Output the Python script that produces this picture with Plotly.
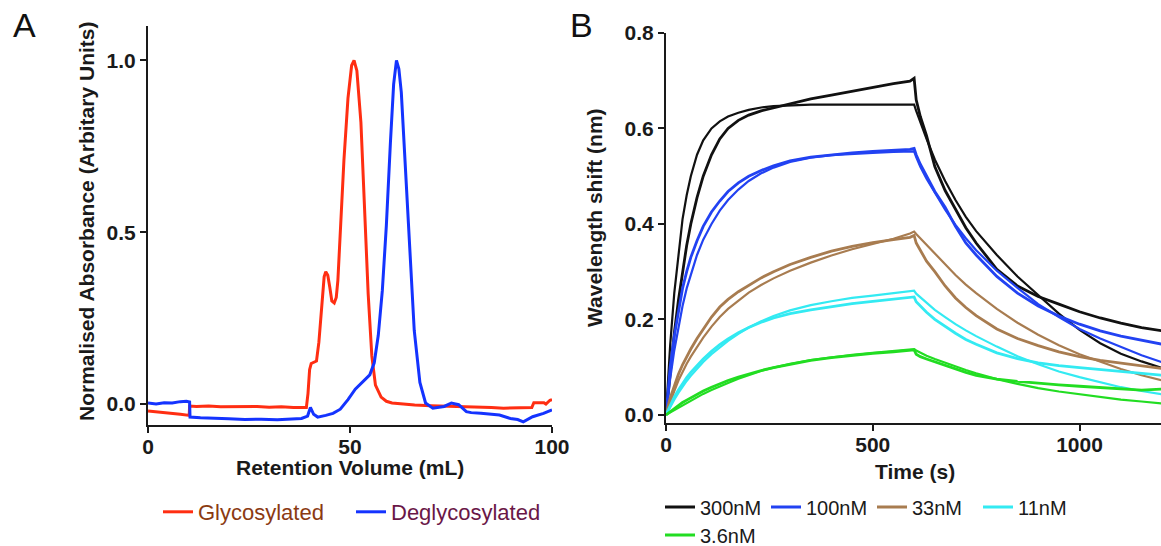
import plotly.graph_objects as go

# ---------------- Panel A data (size-exclusion chromatography) ----------------
glyco_ml = [0, 2, 4, 6, 8, 10.2, 10.3, 12, 15, 18, 21, 24, 27, 30, 33, 36, 38.5, 39.2, 39.6, 40.0, 40.4,
            41.0, 41.7, 42.3, 43.0, 43.6, 44.0, 44.5, 45.0, 45.5, 46.1, 46.6, 47.0, 47.6, 48.5, 49.5, 50.4,
            51.0, 51.7, 52.7, 53.6, 54.5, 55.4, 56.3, 57.7, 59, 60.4, 63, 66, 70, 75, 80, 85, 88, 90, 92,
            95, 95.5, 97, 98, 98.5, 99.5, 100]
glyco_abs = [-0.02, -0.022, -0.025, -0.027, -0.03, -0.033, -0.006, -0.007, -0.006, -0.008, -0.007, -0.008,
             -0.007, -0.009, -0.008, -0.01, -0.011, -0.01, 0.03, 0.1, 0.118, 0.121, 0.125, 0.18, 0.29, 0.37,
             0.385, 0.375, 0.34, 0.30, 0.294, 0.31, 0.36, 0.5, 0.71, 0.89, 0.985, 1.0, 0.97, 0.82, 0.57,
             0.32, 0.14, 0.055, 0.02, 0.008, 0.003, 0.0, -0.003, -0.005, -0.006, -0.008, -0.01, -0.012,
             -0.011, -0.012, -0.01, 0.004, 0.005, 0.004, 0.0, 0.011, 0.013]

deglyco_ml = [0, 2, 4, 6, 8, 9.5, 10.3, 10.4, 13, 16, 20, 24, 28, 32, 35, 38, 39.5, 40.2, 41, 42, 44, 45.8,
              47.6, 49.5, 51.3, 53.1, 54.9, 56.0, 57.0, 58.0, 59.0, 60.0, 60.8, 61.5, 62.1, 62.7, 63.6, 64.6,
              65.9, 67.3, 68.7, 70.5, 72, 73.3, 75.1, 76.9, 78.8, 80, 82.4, 85, 87, 89.7, 91.5, 92.9, 94,
              95.2, 97.9, 100]
deglyco_abs = [0.003, 0.0, 0.004, 0.003, 0.007, 0.008, 0.006, -0.038, -0.04, -0.042, -0.043, -0.045, -0.044,
               -0.046, -0.044, -0.042, -0.035, -0.01, -0.03, -0.038, -0.033, -0.027, -0.015, 0.013, 0.043,
               0.063, 0.085, 0.12, 0.2, 0.33, 0.52, 0.76, 0.93, 1.0, 0.975, 0.907, 0.716, 0.465, 0.214,
               0.063, 0.003, -0.012, -0.01, -0.007, 0.003, -0.002, -0.022, -0.025, -0.027, -0.03, -0.032,
               -0.042, -0.045, -0.052, -0.045, -0.037, -0.027, -0.017]

# ---------------- Panel B data (binding kinetics) ----------------
time_s = [0, 10, 20, 30, 40, 50, 60, 75, 90, 110, 130, 150, 175, 200, 230, 260, 300, 350, 400, 450, 500, 550,
          590, 600, 605, 615, 630, 650, 675, 700, 725, 750, 800, 850, 900, 950, 1000, 1050, 1100, 1150, 1200]

nm300_data = [0, 0.09, 0.17, 0.24, 0.30, 0.355, 0.40, 0.455, 0.50, 0.545, 0.578, 0.60, 0.617, 0.628, 0.637,
              0.643, 0.652, 0.662, 0.670, 0.678, 0.687, 0.694, 0.699, 0.705, 0.66, 0.625, 0.585, 0.52, 0.47,
              0.43, 0.392, 0.36, 0.305, 0.27, 0.248, 0.232, 0.216, 0.203, 0.192, 0.183, 0.176]
nm300_fit = [0, 0.145, 0.255, 0.34, 0.41, 0.46, 0.50, 0.545, 0.575, 0.60, 0.615, 0.625, 0.633, 0.639, 0.644,
             0.647, 0.649, 0.65, 0.65, 0.65, 0.65, 0.65, 0.65, 0.65, 0.637, 0.612, 0.578, 0.535, 0.49, 0.45,
             0.415, 0.385, 0.335, 0.29, 0.25, 0.212, 0.178, 0.15, 0.128, 0.112, 0.098]

nm100_data = [0, 0.10, 0.165, 0.22, 0.265, 0.30, 0.33, 0.365, 0.395, 0.425, 0.448, 0.468, 0.486, 0.50, 0.512,
              0.522, 0.532, 0.54, 0.545, 0.549, 0.552, 0.554, 0.556, 0.558, 0.545, 0.525, 0.50, 0.468, 0.435,
              0.395, 0.36, 0.335, 0.29, 0.255, 0.228, 0.207, 0.19, 0.176, 0.165, 0.156, 0.148]
nm100_fit = [0, 0.075, 0.135, 0.185, 0.228, 0.265, 0.295, 0.335, 0.367, 0.40, 0.428, 0.45, 0.472, 0.49, 0.506,
             0.518, 0.53, 0.539, 0.544, 0.547, 0.549, 0.551, 0.552, 0.552, 0.54, 0.52, 0.495, 0.465, 0.43,
             0.398, 0.37, 0.345, 0.302, 0.266, 0.232, 0.205, 0.18, 0.16, 0.142, 0.125, 0.11]

nm33_data = [0, 0.035, 0.06, 0.085, 0.105, 0.122, 0.138, 0.16, 0.18, 0.205, 0.226, 0.242, 0.258, 0.272, 0.287,
             0.30, 0.315, 0.33, 0.343, 0.353, 0.361, 0.367, 0.372, 0.376, 0.36, 0.345, 0.322, 0.30, 0.27,
             0.245, 0.225, 0.208, 0.18, 0.16, 0.145, 0.132, 0.122, 0.114, 0.108, 0.102, 0.097]
nm33_fit = [0, 0.027, 0.05, 0.072, 0.09, 0.107, 0.122, 0.143, 0.162, 0.185, 0.205, 0.222, 0.24, 0.256, 0.272,
            0.286, 0.302, 0.319, 0.334, 0.347, 0.358, 0.369, 0.38, 0.384, 0.379, 0.37, 0.355, 0.337, 0.314,
            0.293, 0.273, 0.255, 0.222, 0.193, 0.168, 0.146, 0.127, 0.111, 0.096, 0.083, 0.072]

nm11_data = [0, 0.02, 0.037, 0.052, 0.066, 0.078, 0.089, 0.104, 0.117, 0.133, 0.147, 0.159, 0.172, 0.183, 0.194,
             0.203, 0.212, 0.22, 0.227, 0.233, 0.238, 0.242, 0.245, 0.247, 0.237, 0.228, 0.215, 0.20, 0.185,
             0.171, 0.158, 0.148, 0.13, 0.118, 0.109, 0.103, 0.099, 0.095, 0.091, 0.087, 0.083]
nm11_fit = [0, 0.017, 0.032, 0.046, 0.059, 0.071, 0.082, 0.097, 0.111, 0.127, 0.142, 0.155, 0.17, 0.183, 0.196,
            0.207, 0.219, 0.23, 0.238, 0.245, 0.25, 0.255, 0.259, 0.26, 0.254, 0.246, 0.234, 0.22, 0.205,
            0.19, 0.177, 0.165, 0.143, 0.123, 0.106, 0.091, 0.079, 0.068, 0.058, 0.05, 0.043]

nm3_6_data = [0, 0.007, 0.014, 0.02, 0.026, 0.031, 0.036, 0.043, 0.05, 0.058, 0.065, 0.072, 0.079, 0.086, 0.093,
              0.099, 0.106, 0.114, 0.12, 0.125, 0.129, 0.132, 0.134, 0.136, 0.127, 0.122, 0.117, 0.111, 0.104,
              0.096, 0.089, 0.083, 0.075, 0.07, 0.066, 0.063, 0.06, 0.057, 0.054, 0.052, 0.054]
nm3_6_fit = [0, 0.005, 0.01, 0.015, 0.02, 0.025, 0.03, 0.037, 0.044, 0.052, 0.06, 0.067, 0.076, 0.084, 0.092,
             0.099, 0.107, 0.115, 0.121, 0.126, 0.13, 0.134, 0.137, 0.138, 0.135, 0.13, 0.124, 0.117, 0.109,
             0.101, 0.094, 0.087, 0.075, 0.065, 0.056, 0.049, 0.043, 0.037, 0.032, 0.028, 0.024]

conc_labels = ["300nM", "100nM", "33nM", "11nM", "3.6nM"]
conc_colors = ["#111111", "#2242F2", "#A87C50", "#33EAF2", "#22DD22"]
data_series = [nm300_data, nm100_data, nm33_data, nm11_data, nm3_6_data]
fit_series = [nm300_fit, nm100_fit, nm33_fit, nm11_fit, nm3_6_fit]
conc_legend = ["legend2", "legend2", "legend2", "legend2", "legend3"]

W, H = 1161, 546
FONT = "Liberation Sans"
AXC = "#1a1a1a"

fig = go.Figure()

fig.add_trace(go.Scatter(x=glyco_ml, y=glyco_abs, mode="lines", xaxis="x", yaxis="y",
                         line=dict(color="#FF2E12", width=3),
                         name='<span style="color:#8B3A12">Glycosylated</span>', legend="legend"))
fig.add_trace(go.Scatter(x=deglyco_ml, y=deglyco_abs, mode="lines", xaxis="x", yaxis="y",
                         line=dict(color="#1433FF", width=3),
                         name='<span style="color:#6A1747">Deglycosylated</span>', legend="legend"))

for lab, col, d, f, lg in zip(conc_labels, conc_colors, data_series, fit_series, conc_legend):
    fig.add_trace(go.Scatter(x=time_s, y=d, mode="lines", xaxis="x2", yaxis="y2",
                             line=dict(color=col, width=2.8), name=lab, legend=lg,
                             legendgroup=lab, showlegend=True))
    fig.add_trace(go.Scatter(x=time_s, y=f, mode="lines", xaxis="x2", yaxis="y2",
                             line=dict(color=col, width=2.2), name=lab + " fit", legend=lg,
                             legendgroup=lab, showlegend=False))

tick_font = dict(family=FONT, size=21, color=AXC, weight="bold")
title_font = dict(family=FONT, size=21, color=AXC, weight="bold")
axis_common = dict(showline=True, linecolor=AXC, linewidth=2, ticks="outside", ticklen=6, tickwidth=2,
                   tickcolor=AXC, showgrid=False, zeroline=False, tickfont=tick_font, automargin=False)


def px_x(v):
    return v / W


def px_y(v):
    return (H - v) / H


legend_common = dict(orientation="h", xref="container", yref="container", xanchor="left", yanchor="middle",
                     bgcolor="rgba(0,0,0,0)", borderwidth=0, traceorder="normal", entrywidthmode="pixels")


def label(text, x, y, angle=0, font=title_font):
    return dict(text=text, x=px_x(x), y=px_y(y), xref="paper", yref="paper", showarrow=False,
                xanchor="center", yanchor="middle", textangle=angle, font=font)


fig.update_layout(
    width=W, height=H,
    paper_bgcolor="white", plot_bgcolor="white",
    margin=dict(l=0, r=0, t=0, b=0, autoexpand=False),
    xaxis=dict(domain=[px_x(148), px_x(552)], range=[0, 100], tickvals=[0, 50, 100], anchor="y",
               ticklabelstandoff=-4, **axis_common),
    yaxis=dict(domain=[px_y(425), px_y(26)], range=[-0.061, 1.1], tickvals=[0, 0.5, 1.0],
               tickformat=".1f", anchor="x", **axis_common),
    xaxis2=dict(domain=[px_x(666), 1.0], range=[0, 1197], tickvals=[0, 500, 1000], anchor="y2",
                ticklabelstandoff=-4, **axis_common),
    yaxis2=dict(domain=[px_y(423), px_y(33)], range=[-0.017, 0.8], tickvals=[0, 0.2, 0.4, 0.6, 0.8],
                tickformat=".1f", anchor="x2", **axis_common),
    legend=dict(x=px_x(158), y=px_y(512), font=dict(family=FONT, size=22, color="#333"),
                entrywidth=148, **legend_common),
    legend2=dict(x=px_x(660), y=px_y(507), font=dict(family=FONT, size=20, color="#1a1a1a"),
                 entrywidth=61, **legend_common),
    legend3=dict(x=px_x(660), y=px_y(535), font=dict(family=FONT, size=20, color="#1a1a1a"),
                 entrywidth=61, **legend_common),
    annotations=[
        label("A", 24, 25, font=dict(family=FONT, size=34, color="#111")),
        label("B", 581, 25, font=dict(family=FONT, size=34, color="#111")),
        label("Retention Volume (mL)", 350, 467),
        label("Normalised Absorbance (Arbitary Units)", 86, 222, angle=-90),
        label("Time (s)", 915, 471),
        label("Wavelength shift (nm)", 594, 218, angle=-90),
    ],
)

fig.write_html("out.html", config={"displayModeBar": False},
               post_script="document.body.style.margin='0px';document.body.style.padding='0px';")
